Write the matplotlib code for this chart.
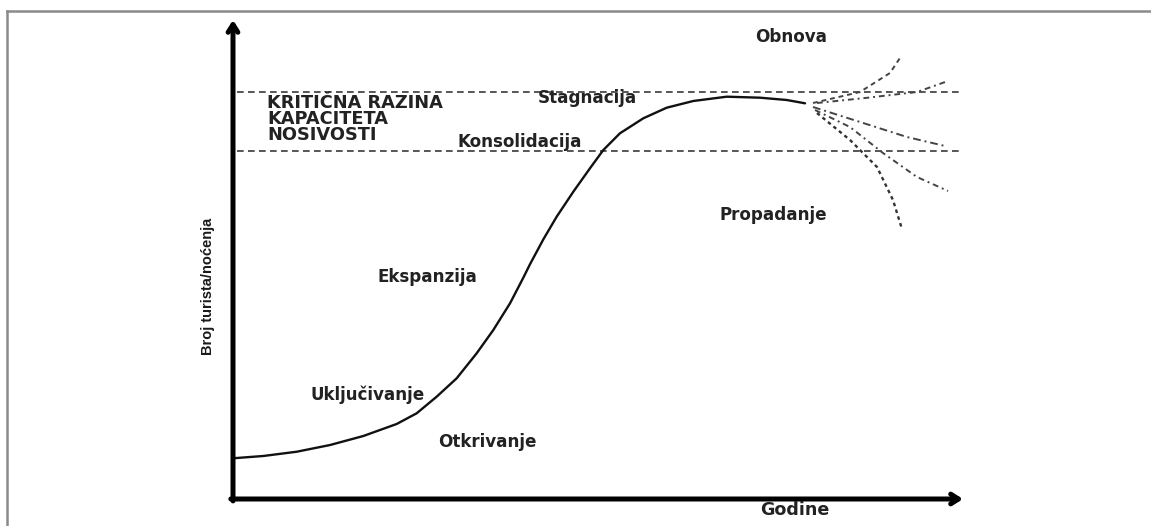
import matplotlib
matplotlib.use("Agg")
import matplotlib.pyplot as plt
from matplotlib.lines import Line2D

# ---- data (x: time units 0..100, y: tourists 0..100) ----
curve_x = [0.0, 4.15, 8.73, 13.29, 17.85, 22.42, 25.16, 27.90, 30.64, 33.38,
           35.66, 37.95, 39.77, 40.68, 42.51, 44.34, 46.62, 48.90, 50.73,
           53.01, 56.21, 59.41, 63.05, 67.63, 72.19, 75.85, 78.36]
curve_y = [8.50, 8.98, 9.87, 11.27, 13.15, 15.66, 17.89, 21.36, 25.20, 30.42,
           35.28, 40.86, 46.20, 49.00, 54.20, 58.94, 64.15, 69.04, 72.86,
           76.35, 79.48, 81.69, 83.09, 83.99, 83.78, 83.30, 82.61]

branch1_x = [79.45, 85.89, 90.00, 91.37]
branch1_y = [82.67, 84.97, 88.94, 92.07]
branch2_x = [80.00, 86.85, 93.70, 97.95]
branch2_y = [82.67, 83.76, 84.97, 87.27]
branch3_x = [79.45, 85.89, 92.33, 97.53]
branch3_y = [81.84, 78.71, 75.57, 73.70]
branch4_x = [79.73, 84.52, 89.04, 93.70, 97.95]
branch4_y = [81.21, 77.66, 72.23, 67.22, 64.30]
branch5_x = [80.00, 84.52, 88.22, 90.41, 91.64]
branch5_y = [80.58, 74.95, 69.31, 62.42, 56.37]

capacity_levels = [85.07, 72.55]
capacity_x = [0.5, 100.0]

stage_labels = ["Obnova", "Stagnacija", "Konsolidacija", "Propadanje",
                "Ekspanzija", "Uključivanje", "Otkrivanje"]
stage_x = [71.5, 41.78, 30.82, 66.71, 19.73, 10.55, 28.08]
stage_y = [96.45, 83.76, 74.53, 59.29, 46.35, 21.71, 11.90]

capacity_lines = ["KRITIČNA RAZINA", "KAPACITETA", "NOSIVOSTI"]
capacity_text_y = [82.67, 79.33, 75.99]

x_label = "Godine"
y_label = "Broj turista/noćenja"

# ---- figure ----
W, H = 1151, 526
fig = plt.figure(figsize=(W / 100, H / 100), dpi=100)
fig.patch.set_facecolor("white")

# outer frame (top and left)
fig.add_artist(Line2D([7 / W, 1.0], [1 - 11 / H, 1 - 11 / H], color="#8a8a8a", lw=1.8))
fig.add_artist(Line2D([7 / W, 7 / W], [0.0, 1 - 11 / H], color="#8a8a8a", lw=1.8))

ax = fig.add_axes([233 / W, (H - 499) / H, 730 / W, 479 / H])
ax.set_xlim(0, 100)
ax.set_ylim(0, 100)
ax.axis("off")

# axes arrows
arrow_kw = dict(arrowstyle="->,head_length=0.55,head_width=0.35", lw=3.6,
                color="black", shrinkA=0, shrinkB=0)
ax.annotate("", xy=(0, 1), xytext=(0, -0.004), xycoords="axes fraction",
            arrowprops=arrow_kw, annotation_clip=False)
ax.annotate("", xy=(1, 0), xytext=(-0.003, 0), xycoords="axes fraction",
            arrowprops=arrow_kw, annotation_clip=False)

# carrying capacity dashed lines
for lvl in capacity_levels:
    ax.plot(capacity_x, [lvl, lvl], color="#3a3a3a", lw=1.2, dashes=(4, 2.6))

# main curve
ax.plot(curve_x, curve_y, color="#111111", lw=1.7, solid_capstyle="round",
        solid_joinstyle="round")

# branches
ax.plot(branch1_x, branch1_y, color="#444444", lw=1.4, dashes=(2.5, 2))
ax.plot(branch2_x, branch2_y, color="#444444", lw=1.4, dashes=(3, 2, 1, 2))
ax.plot(branch3_x, branch3_y, color="#444444", lw=1.4, dashes=(4, 2, 1, 2))
ax.plot(branch4_x, branch4_y, color="#444444", lw=1.4, dashes=(3, 2, 1, 2))
ax.plot(branch5_x, branch5_y, color="#333333", lw=1.7, dashes=(1.5, 1.5))

# labels
font = "DejaVu Sans"
for t, x, y in zip(stage_labels, stage_x, stage_y):
    ax.text(x, y, t, ha="left", va="center", fontsize=12.1, fontweight="bold",
            color="#222222", family=font)
for t, y in zip(capacity_lines, capacity_text_y):
    ax.text(4.66, y, t, ha="left", va="center", fontsize=12.8, fontweight="bold",
            color="#222222", family=font)

ax.text(72.19, -2.3, x_label, ha="left", va="center", fontsize=12.6,
        fontweight="bold", color="#222222", family=font, clip_on=False)
ax.text(-3.42, 44.47, y_label, ha="center", va="center", rotation=90,
        fontsize=10.5, fontweight="bold", color="#1a1a1a",
        family=["Liberation Sans Narrow", "Liberation Sans", "DejaVu Sans"],
        clip_on=False)

fig.savefig("out.png", dpi=100, facecolor="white")
